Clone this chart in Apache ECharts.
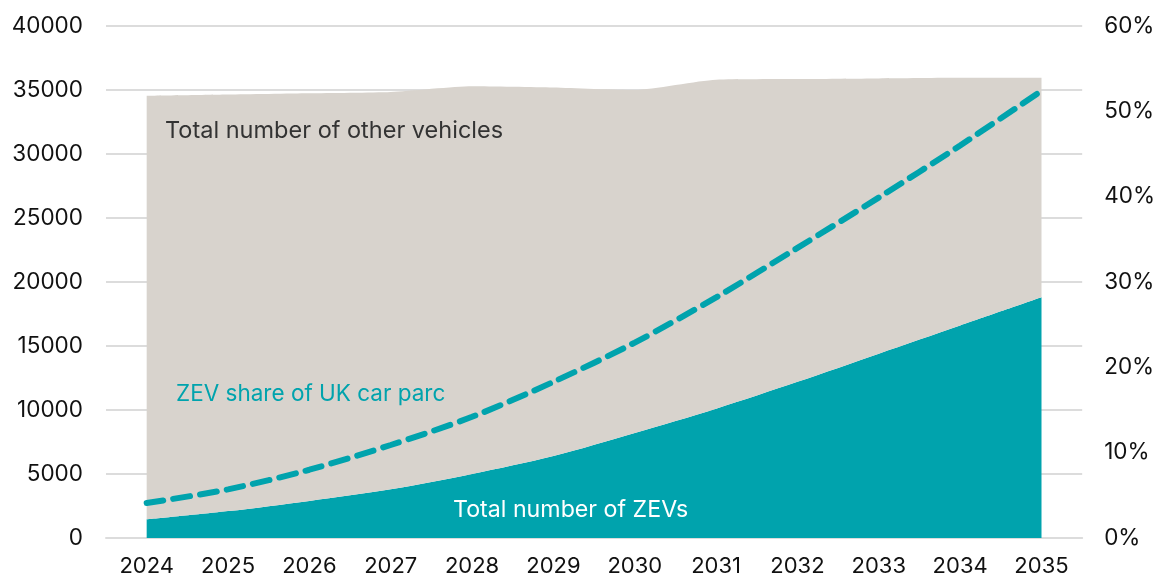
<!DOCTYPE html>
<html>
<head>
<meta charset="utf-8">
<script src="https://cdn.jsdelivr.net/npm/echarts@6/dist/echarts.min.js"></script>
<style>html,body{margin:0;padding:0;background:#fff}#c{width:1158px;height:577px}</style>
</head>
<body>
<div id="c"></div>
<script>
const years = ['2024','2025','2026','2027','2028','2029','2030','2031','2032','2033','2034','2035'];
const zevs = [1450, 2100, 2900, 3800, 5000, 6400, 8200, 10100, 12200, 14400, 16600, 18800];
const otherVehicles = [33100, 32550, 31850, 31050, 30300, 28800, 26800, 25700, 23650, 21500, 19350, 17150];
const zevShare = [4.1, 5.7, 8.0, 10.9, 14.2, 18.3, 22.9, 28.2, 34.0, 39.9, 46.0, 52.4];

const TEAL = '#00A3AD', GREY = '#D8D3CD';
const FONT = 'Inter';
const chart = echarts.init(document.getElementById('c'));
chart.setOption({
  animation: false,
  textStyle: {fontFamily: FONT},
  grid: {left: 106, right: 75, top: 26, bottom: 39},
  xAxis: {
    type: 'category', data: years, boundaryGap: true,
    axisLine: {lineStyle: {color: '#dcdcdc', width: 2}},
    axisTick: {show: false},
    axisLabel: {color: '#111', fontSize: 22, fontFamily: FONT, margin: 17}
  },
  yAxis: [{
    type: 'value', min: 0, max: 40000, interval: 5000,
    axisLine: {show: false}, axisTick: {show: false},
    splitLine: {lineStyle: {color: '#dcdcdc', width: 2}},
    axisLabel: {color: '#111', fontSize: 22.5, fontFamily: FONT, margin: 23, formatter: v => String(v)}
  }, {
    type: 'value', min: 0, max: 60, interval: 10, position: 'right',
    axisLine: {show: false}, axisTick: {show: false}, splitLine: {show: false},
    axisLabel: {color: '#111', fontSize: 22.5, fontFamily: FONT, margin: 22, formatter: '{value}%'}
  }],
  series: [{
    name: 'Total number of ZEVs', type: 'line', stack: 'parc', data: zevs,
    smooth: 0.3, symbol: 'none', lineStyle: {width: 0}, areaStyle: {color: TEAL, opacity: 1}
  }, {
    name: 'Total number of other vehicles', type: 'line', stack: 'parc', data: otherVehicles,
    smooth: 0.2, symbol: 'none', lineStyle: {width: 0}, areaStyle: {color: GREY, opacity: 1}
  }, {
    name: 'ZEV share of UK car parc', type: 'line', yAxisIndex: 1, data: zevShare,
    smooth: 0.3, symbol: 'none', z: 5,
    lineStyle: {color: TEAL, width: 6, type: [17, 10], cap: 'round'}
  }],
  graphic: [
    {type: 'text', left: 165, top: 119, z: 10, style: {text: 'Total number of other vehicles', fill: '#333', font: '23.5px Inter'}},
    {type: 'text', left: 176, top: 383, z: 10, style: {text: 'ZEV share of UK car parc', fill: TEAL, font: '22.5px Inter'}},
    {type: 'text', left: 453, top: 499, z: 10, style: {text: 'Total number of ZEVs', fill: '#fff', font: '23.2px Inter'}}
  ]
});
</script>
</body>
</html>
